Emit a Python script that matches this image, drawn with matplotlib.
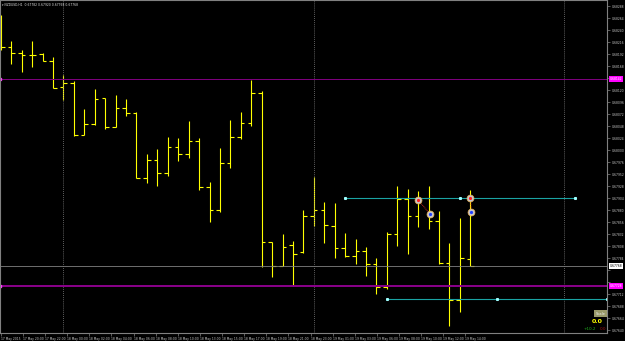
import numpy as np
import matplotlib
matplotlib.use("Agg")
import matplotlib.pyplot as plt

# H1 bars, bar 0 = 17 May 18:00
symbol = "NZDUSD,H1"
opens = [0.68210, 0.68206, 0.68194, 0.68190, 0.68192, 0.68178, 0.68126, 0.68134, 0.68030, 0.68052,
         0.68104, 0.68046, 0.68084, 0.68074, 0.67944, 0.67980, 0.67954, 0.68006, 0.67992, 0.68018,
         0.67926, 0.67880, 0.67974, 0.68026, 0.68054, 0.68114, 0.67816, 0.67768, 0.67810, 0.67796,
         0.67868, 0.67880, 0.67848, 0.67804, 0.67788, 0.67798, 0.67772, 0.67726, 0.67832, 0.67902,
         0.67868, 0.67904, 0.67858, 0.67774, 0.67700, 0.67782]
highs = [0.68270, 0.68218, 0.68200, 0.68218, 0.68194, 0.68186, 0.68150, 0.68138, 0.68082, 0.68122,
         0.68104, 0.68110, 0.68102, 0.68076, 0.67992, 0.68002, 0.68026, 0.68024, 0.68058, 0.68024,
         0.67936, 0.68004, 0.68060, 0.68076, 0.68140, 0.68118, 0.67816, 0.67832, 0.67818, 0.67880,
         0.67946, 0.67896, 0.67894, 0.67834, 0.67822, 0.67806, 0.67784, 0.67836, 0.67928, 0.67922,
         0.67918, 0.67928, 0.67878, 0.67814, 0.67864, 0.67920]
lows = [0.68200, 0.68172, 0.68156, 0.68166, 0.68178, 0.68124, 0.68100, 0.68028, 0.68030, 0.68050,
        0.68042, 0.68046, 0.68068, 0.67944, 0.67934, 0.67928, 0.67948, 0.67978, 0.67984, 0.67920,
        0.67856, 0.67876, 0.67964, 0.68022, 0.68048, 0.67766, 0.67746, 0.67768, 0.67728, 0.67794,
        0.67848, 0.67814, 0.67784, 0.67786, 0.67772, 0.67748, 0.67712, 0.67722, 0.67808, 0.67792,
        0.67846, 0.67842, 0.67772, 0.67648, 0.67676, 0.67768]
closes = [0.68206, 0.68194, 0.68190, 0.68190, 0.68178, 0.68124, 0.68134, 0.68030, 0.68052, 0.68102,
          0.68046, 0.68084, 0.68074, 0.67944, 0.67980, 0.67954, 0.68006, 0.67992, 0.68018, 0.67926,
          0.67880, 0.67974, 0.68026, 0.68054, 0.68114, 0.67816, 0.67768, 0.67806, 0.67792, 0.67868,
          0.67880, 0.67850, 0.67804, 0.67788, 0.67798, 0.67772, 0.67726, 0.67832, 0.67902, 0.67868,
          0.67904, 0.67858, 0.67774, 0.67700, 0.67784, 0.67768]

time_labels = ["17 May 2015", "17 May 20:00", "17 May 22:00", "18 May 00:00", "18 May 02:00",
               "18 May 04:00", "18 May 06:00", "18 May 08:00", "18 May 10:00", "18 May 13:00",
               "18 May 15:00", "18 May 17:00", "18 May 19:00", "18 May 21:00", "18 May 23:00",
               "19 May 01:00", "19 May 03:00", "19 May 06:00", "19 May 08:00", "19 May 10:00",
               "19 May 12:00", "19 May 14:00"]
day_starts = [6, 30, 54]

bid = 0.67768
level_upper = 0.68142
level_lower = 0.67728
# trend lines: bar anchors and price
tline_a_bars = [33, 44, 55]
tline_a_price = 0.67904
tline_b_bars = [37, 47.6, 58.1]
tline_b_price = 0.67702
# trades: open bar, open price, close bar, close price
trades = [(40, 0.67900, 41.1, 0.67873), (45, 0.67905, 45.1, 0.67877)]

fig = plt.figure(figsize=(6.25, 3.41), dpi=100)
fig.patch.set_facecolor("black")
ax = fig.add_axes([0, 8 / 341, 607 / 625, 333 / 341])
ax.set_facecolor("black")
ax.set_xlim(-0.083, 58.1)
ax.set_ylim(0.67634, 0.68300)

x = np.arange(len(opens))
bar_col = "#ffff00"
ax.vlines(x, lows, highs, color=bar_col, lw=0.8)
ax.hlines(opens, x - 0.35, x, color=bar_col, lw=0.8)
ax.hlines(closes, x, x + 0.35, color=bar_col, lw=0.8)

for d in day_starts:
    ax.axvline(d, color="#808080", lw=0.6, ls=(0, (1, 1.5)))

ax.axhline(bid, color="#808080", lw=0.6)
ax.axhline(level_upper, color="#800080", lw=0.7)
ax.axhline(level_lower, color="#8b008b", lw=1.4)
ax.plot([-0.05, -0.05], [level_upper, level_lower], ls="none", marker="s", ms=1.5,
        color="#ff40ff")

teal = "#1aa3a3"
for bars, p in [(tline_a_bars, tline_a_price), (tline_b_bars, tline_b_price)]:
    ax.plot([bars[0], bars[-1]], [p, p], color=teal, lw=0.8)
    ax.plot(bars, [p] * len(bars), ls="none", marker="s", ms=1.2, color="#a0ffff")

for b0, p0, b1, p1 in trades:
    ax.plot([b0, b1], [p0, p1], color="#ff3030", lw=0.6, ls=(0, (1, 1)))
    ax.plot([b0, b1], [p0, p1], ls="none", marker="o", ms=5, mfc="#c8c8d0",
            mec="#e8b050", mew=0.5)
    ax.plot([b0], [p0], ls="none", marker="o", ms=1.3, color="#ff2020")
    ax.plot([b1], [p1], ls="none", marker="o", ms=1.3, color="#2040ff")

# axes styling
for s in ax.spines.values():
    s.set_color("#808080")
    s.set_linewidth(0.8)
ax.yaxis.tick_right()
boxes = [level_upper, bid, level_lower]
yt = np.arange(0.68288, 0.67636, -0.00024)
ax.set_yticks(yt)
ax.set_yticklabels(["" if min(abs(v - b) for b in boxes) < 0.00012 else "%.5f" % v for v in yt])
ax.tick_params(axis="y", colors="#808080", labelcolor="#c8c8c8", labelsize=2.2,
               length=2, width=0.5, pad=1.5)
ax.set_xticks(np.arange(len(time_labels)) * 2.12)
ax.set_xticklabels(time_labels, ha="left")
ax.tick_params(axis="x", colors="#808080", labelcolor="#c8c8c8", labelsize=2.2,
               length=2, width=0.5, pad=1)

ytr = ax.get_yaxis_transform()
for p, fc, tc in [(level_upper, "#ff00ff", "#ffffff"), (bid, "#ffffff", "#000000"),
                  (level_lower, "#ff00ff", "#ffffff")]:
    ax.text(1.004, p, "%.5f" % p, transform=ytr, fontsize=2.2, color=tc, va="center",
            ha="left", bbox=dict(boxstyle="square,pad=0.3", fc=fc, ec="none"), clip_on=False)

ax.text(0.004, 0.992, "\u25be " + symbol + "  %.5f %.5f %.5f %.5f" % (opens[-1], highs[-1], lows[-1], closes[-1]),
        transform=ax.transAxes, fontsize=2.2, color="#e0e0e0", va="top", ha="left")

ax.text(0.998, 0.058, "Scale", transform=ax.transAxes, fontsize=2.6, color="#f0f0f0",
        ha="right", va="center", bbox=dict(boxstyle="square,pad=0.4", fc="#9a9a6a", ec="none"))
ax.text(0.993, 0.035, "0.0", transform=ax.transAxes, fontsize=4.5, color="#ffff00",
        ha="right", va="center", fontweight="bold")
ax.text(0.982, 0.012, "+10.2", transform=ax.transAxes, fontsize=3, color="#20b020",
        ha="right", va="center")
ax.text(0.999, 0.012, "0.0", transform=ax.transAxes, fontsize=3, color="#a01010",
        ha="right", va="center")

fig.savefig("out.png", dpi=100, facecolor="black")
